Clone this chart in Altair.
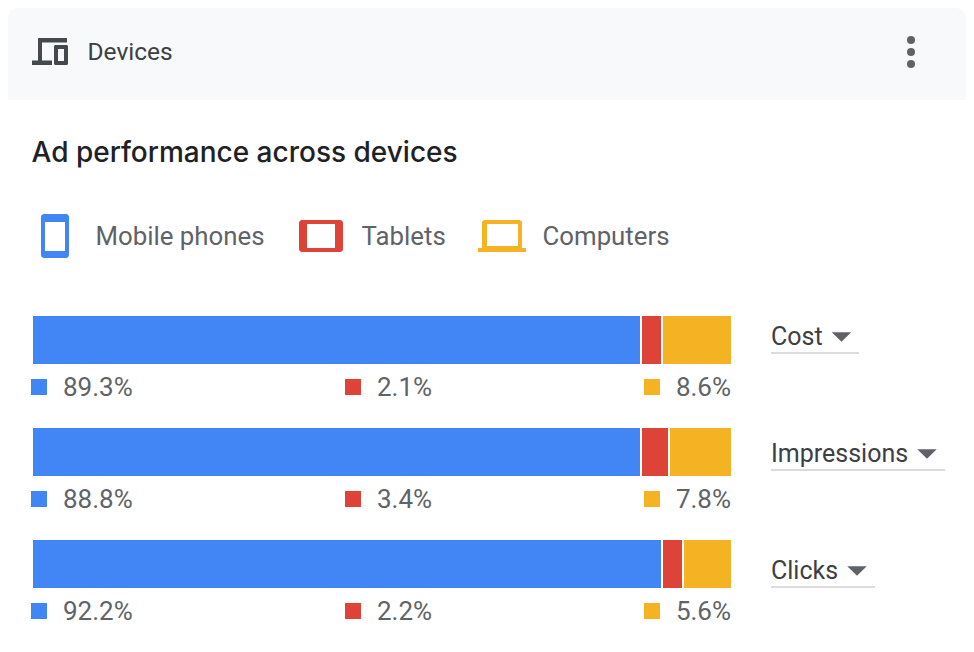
import altair as alt
import pandas as pd

metrics = ["Cost", "Impressions", "Clicks"]
devices = ["Mobile phones", "Tablets", "Computers"]
colors = ["#4285f4", "#dd4437", "#f5b324"]

# segment widths as drawn (percent of bar)
bar_mobile = [87, 87, 90]
bar_tablets = [3, 4, 3]
bar_computers = [10, 9, 7]

# printed labels
label_mobile = ["89.3%", "88.8%", "92.2%"]
label_tablets = ["2.1%", "3.4%", "2.2%"]
label_computers = ["8.6%", "7.8%", "5.6%"]

GREY = "#5f6368"
DARK = "#3c4043"
ICON = "#45484c"
RULE = "#dadce0"
HEAD = "#f8f9fa"
OFF = 8  # page margin


def px(v):
    return v - OFF


ONE = alt.Data(values=[{"a": 1}])


def box(x0, x1, y0, y1, color, r=0, **kw):
    return alt.Chart(ONE).mark_rect(color=color, cornerRadius=r, **kw).encode(
        x=alt.value(px(x0)), x2=alt.value(px(x1)), y=alt.value(px(y0)), y2=alt.value(px(y1))
    )


def label(text, x, y, size, color, font="Roboto", weight=400, align="left"):
    return alt.Chart(pd.DataFrame({"t": [text]})).mark_text(
        font=font, fontSize=size, fontWeight=weight, color=color, align=align, baseline="alphabetic"
    ).encode(x=alt.value(px(x)), y=alt.value(px(y)), text="t:N")


def dot(x, y, size, color, shape="circle"):
    return alt.Chart(ONE).mark_point(shape=shape, size=size, filled=True, color=color, opacity=1).encode(
        x=alt.value(px(x)), y=alt.value(px(y))
    )


layers = []

# card header
layers.append(
    alt.Chart(ONE).mark_rect(color=HEAD, cornerRadiusTopLeft=10, cornerRadiusTopRight=10).encode(
        x=alt.value(px(8)), x2=alt.value(px(966)), y=alt.value(px(8)), y2=alt.value(px(100))
    )
)
# header icon (laptop + phone)
layers += [
    box(38, 67, 38, 42.5, ICON),
    box(38, 42, 38, 65, ICON),
    box(32, 52, 60.5, 65, ICON),
    box(54, 68, 45, 65, ICON, r=1.5),
    box(58, 64, 49, 61, HEAD),
]
layers.append(label("Devices", 87.5, 60, 24.5, DARK))
for y in [40, 52, 64]:
    layers.append(dot(911, y, 64, GREY))

layers.append(label("Ad performance across devices", 31.5, 162, 28, "#202124", font="Inter", weight=500))

# legend icons
layers += [
    box(41, 69, 214, 258, colors[0], r=3),
    box(45, 65, 222, 251, "#ffffff"),
    box(299, 343, 220, 252, colors[1], r=3),
    box(307, 335, 224, 248, "#ffffff"),
    box(482, 522, 220, 250, colors[2], r=3),
    box(487, 518, 224, 246, "#ffffff"),
    box(478, 526, 248, 252, colors[2]),
]
layers.append(label(devices[0], 95.5, 245, 25.8, GREY))
layers.append(label(devices[1], 361.5, 245, 25.8, GREY))
layers.append(label(devices[2], 542.5, 245, 25.8, GREY))

# stacked bars
rows = []
for series, dev in zip([bar_mobile, bar_tablets, bar_computers], devices):
    for m, v in zip(metrics, series):
        rows.append({"metric": m, "device": dev, "share": v, "rank": devices.index(dev)})
bars_df = pd.DataFrame(rows)

y_enc = alt.Y("metric:N", axis=None, scale=alt.Scale(type="point", domain=metrics, range=[px(340), px(564)], padding=0))

layers.append(
    alt.Chart(bars_df).mark_bar(size=50, stroke="#ffffff", strokeWidth=2).encode(
        x=alt.X("share:Q", stack="zero", axis=None, scale=alt.Scale(domain=[0, 100], range=[px(32), px(732)])),
        y=y_enc,
        color=alt.Color("device:N", legend=None, scale=alt.Scale(domain=devices, range=colors)),
        order=alt.Order("rank:Q"),
    )
)

# percentage rows under the bars
placements = [
    (label_mobile, colors[0], 39, 63, "left"),
    (label_tablets, colors[1], 353, 377, "left"),
    (label_computers, colors[2], 652, 731, "right"),
]
for vals, col, sq_x, tx_x, al in placements:
    d = pd.DataFrame({"metric": metrics, "txt": vals})
    layers.append(
        alt.Chart(d).mark_square(size=256, color=col, opacity=1, yOffset=47).encode(x=alt.value(px(sq_x)), y=y_enc)
    )
    layers.append(
        alt.Chart(d).mark_text(font="Roboto", fontSize=26, color=GREY, align=al, baseline="alphabetic", dy=56).encode(
            x=alt.value(px(tx_x)), y=y_enc, text="txt:N"
        )
    )

# dropdowns
caret = "M-1,-0.5L1,-0.5L0,0.5Z"
for name, base, rule_y, rule_end, cx, cy in [
    ("Cost", 345, 352, 859, 841.5, 337),
    ("Impressions", 462, 469, 945, 927, 454),
    ("Clicks", 579, 586, 875, 857, 571),
]:
    layers.append(label(name, 771, base, 25, DARK))
    layers.append(box(771, rule_end, rule_y, rule_y + 2, RULE))
    layers.append(dot(cx, cy, 380, GREY, shape=caret))

chart = alt.layer(*layers).properties(
    width=958,
    height=636,
    padding=0,
    autosize=alt.AutoSizeParams(type="none"),
    background="#ffffff",
).configure_view(stroke=None)

chart.save("out.html", embed_options={"renderer": "svg", "actions": False})
